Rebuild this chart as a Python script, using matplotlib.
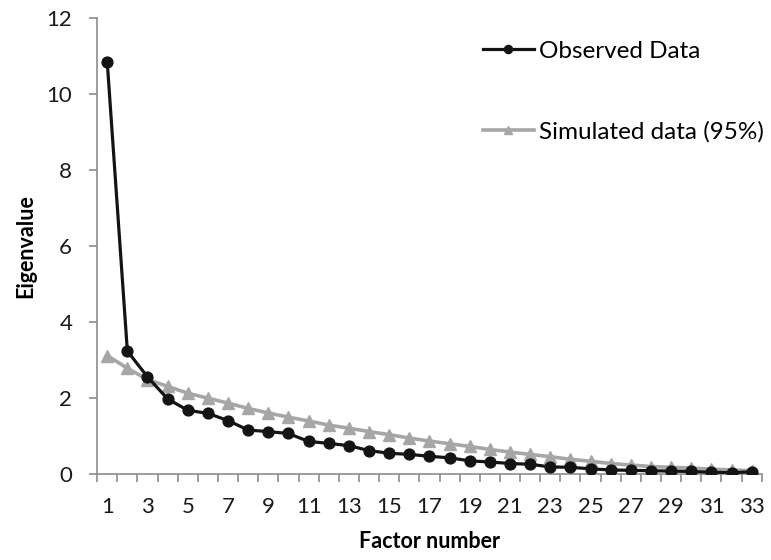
import numpy as np
import matplotlib
matplotlib.use("Agg")
import matplotlib.pyplot as plt

plt.rcParams['font.family'] = ['Lato', 'DejaVu Sans']

factors = np.arange(1, 34)
observed = [10.85, 3.23, 2.55, 1.97, 1.67, 1.59, 1.40, 1.15, 1.11, 1.06,
            0.85, 0.80, 0.74, 0.61, 0.54, 0.51, 0.46, 0.42, 0.34, 0.31,
            0.27, 0.25, 0.18, 0.17, 0.13, 0.10, 0.09, 0.08, 0.07, 0.06,
            0.04, 0.03, 0.05]
simulated = [3.11, 2.78, 2.48, 2.30, 2.12, 1.99, 1.86, 1.72, 1.60, 1.49,
             1.39, 1.28, 1.20, 1.11, 1.03, 0.94, 0.86, 0.79, 0.72, 0.64,
             0.57, 0.51, 0.45, 0.38, 0.33, 0.27, 0.23, 0.19, 0.17, 0.15,
             0.12, 0.10, 0.08]
xtick_labels = [str(i) for i in range(1, 34, 2)]

fig = plt.figure(figsize=(7.71, 5.6), dpi=100)
ax = fig.add_axes([0.126, 0.154, 0.862, 0.814])

ax.plot(factors, simulated, color='#a6a6a6', lw=2.6, marker='^', ms=8.5,
        label='Simulated data (95%)', zorder=2)
ax.plot(factors, observed, color='#141414', lw=2.3, marker='o', ms=7.8,
        label='Observed Data', zorder=3)

ax.set_xlim(0.5, 33.5)
ax.set_ylim(0, 12)
ax.set_yticks(range(0, 13, 2))
ax.set_xticks(range(1, 34, 2))
ax.set_xticklabels(xtick_labels)
ax.set_xticks(np.arange(0.5, 34, 1), minor=True)

for s in ['top', 'right']:
    ax.spines[s].set_visible(False)
for s in ['left', 'bottom']:
    ax.spines[s].set_color('#8c8c8c')
    ax.spines[s].set_linewidth(1.2)

ax.tick_params(axis='y', direction='out', length=6, width=1.2, color='#8c8c8c',
               labelsize=16, pad=12, labelcolor='#1a1a1a')
ax.tick_params(axis='x', which='major', length=0, labelsize=16, pad=17,
               labelcolor='#1a1a1a')
ax.tick_params(axis='x', which='minor', direction='out', length=6, width=1.2,
               color='#8c8c8c')

ax.set_xlabel('Factor number', fontsize=15.5, fontweight='bold', labelpad=10)
ax.set_ylabel('Eigenvalue', fontsize=15.5, fontweight='bold', labelpad=7)

handles, labels = ax.get_legend_handles_labels()
leg = ax.legend(handles[::-1], labels[::-1], frameon=False, fontsize=17.5,
                loc='upper left', bbox_to_anchor=(0.598, 0.966, 0, 0),
                bbox_transform=fig.transFigure,
                handlelength=2.1, handletextpad=0.2, labelspacing=2.45,
                markerscale=0.75)

fig.savefig('out.png', dpi=100)
